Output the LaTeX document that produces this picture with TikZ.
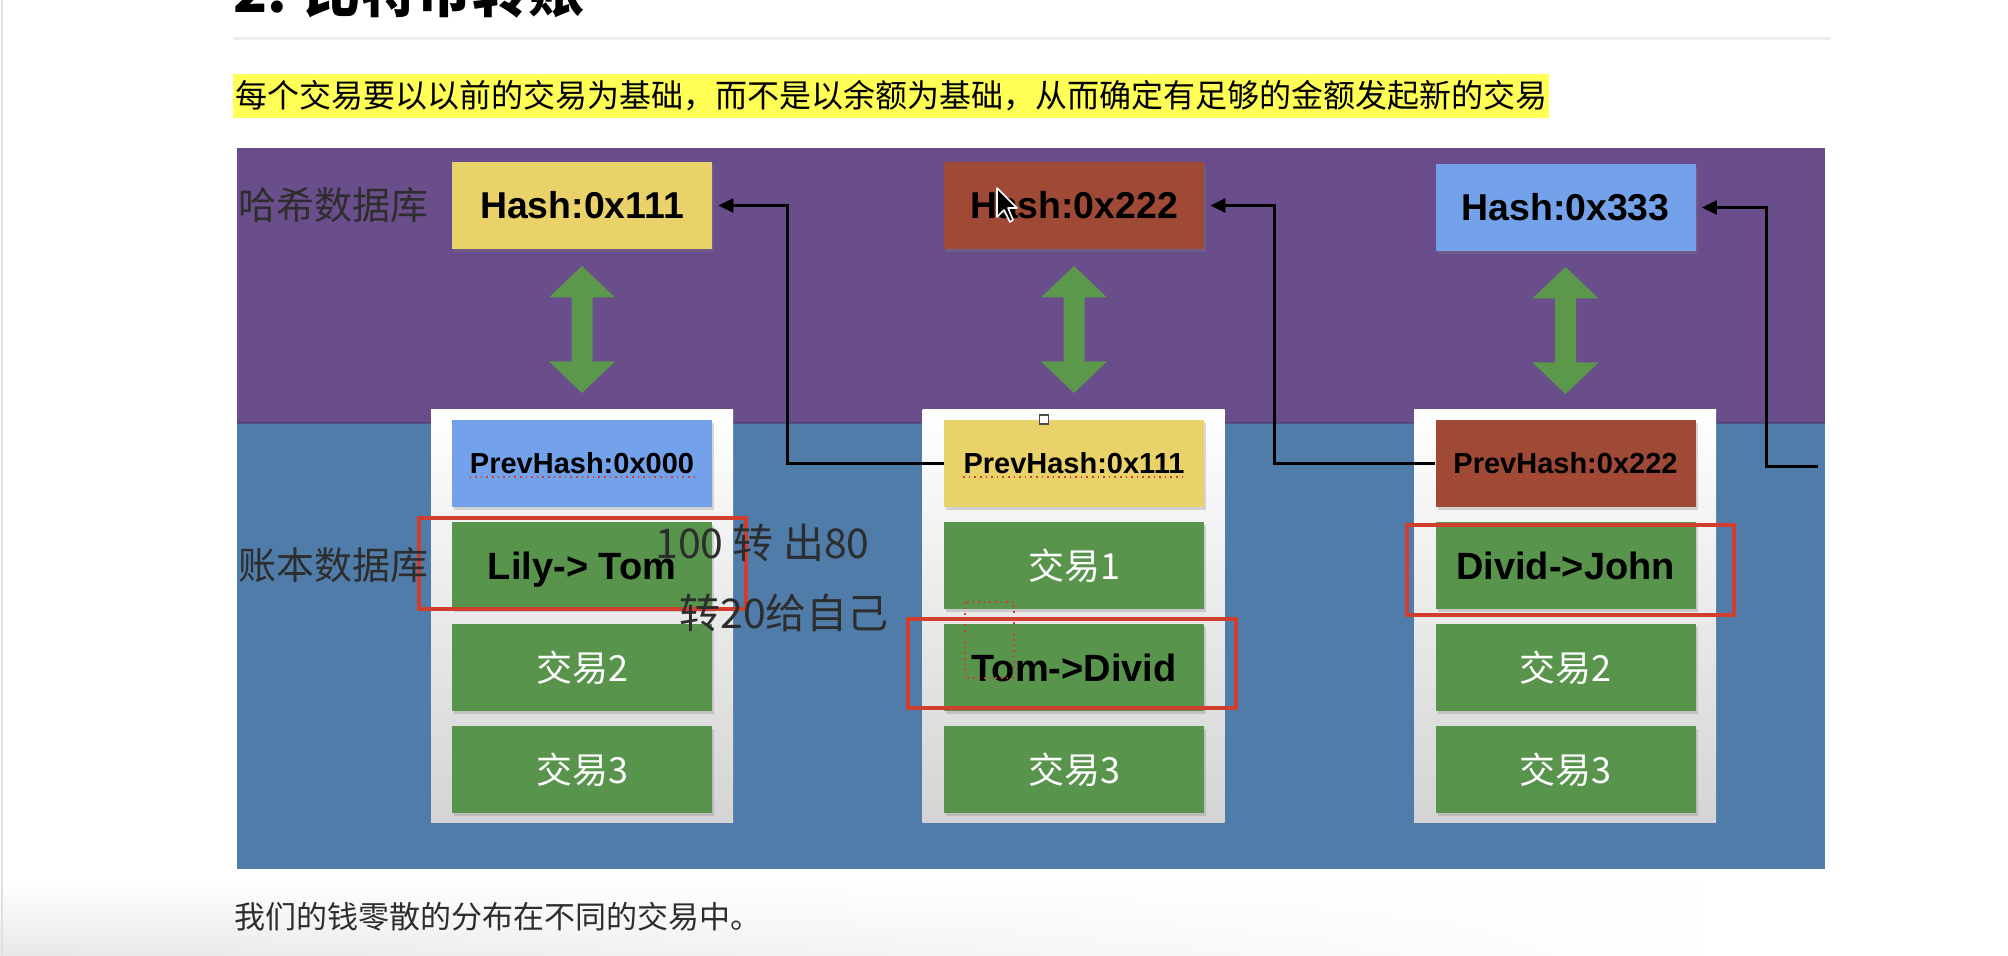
\documentclass[tikz,border=0pt]{standalone}
\usepackage{fontspec}
\setmainfont{Liberation Sans}
\newfontfamily\cjk{Noto Sans CJK SC}
\usetikzlibrary{arrows.meta,shadows,calc,fadings}
\definecolor{purp}{RGB}{106,77,139}
\definecolor{bluep}{RGB}{80,124,170}
\definecolor{hyel}{RGB}{234,210,106}
\definecolor{hbrown}{RGB}{158,74,54}
\definecolor{hlblue}{RGB}{115,161,234}
\definecolor{bgreen}{RGB}{88,148,76}
\definecolor{agreen}{RGB}{92,152,76}
\definecolor{hred}{RGB}{208,62,46}
\definecolor{labgray}{RGB}{45,45,45}
\definecolor{ctgray}{RGB}{212,212,212}
\definecolor{hlyellow}{RGB}{255,255,85}
\definecolor{sepgray}{RGB}{238,238,238}
\tikzfading[name=fadeR, left color=transparent!0, right color=transparent!100]
\begin{document}
\begin{tikzpicture}[x=0.5pt,y=-0.5pt,
  blk/.style={rectangle, minimum width=130pt, minimum height=43.5pt, inner sep=0pt,
    drop shadow={shadow xshift=1pt,shadow yshift=-1.5pt,opacity=0.3}},
  bt/.style={font=\bfseries\fontsize{19}{20}\selectfont, text height=13.6pt, text depth=0pt},
  ht/.style={font=\bfseries\fontsize{18.7}{20}\selectfont, text height=13.4pt, text depth=0pt},
  pt/.style={font=\bfseries\fontsize{14.5}{16}\selectfont, text height=10.4pt, text depth=0pt, inner sep=0pt},
  wt/.style={font=\cjk\fontsize{18}{18}\selectfont, text=white},
  container/.style={rectangle, minimum width=151pt, minimum height=206pt, inner sep=0pt,
    top color=white, bottom color=ctgray},
  lab/.style={font=\cjk\fontsize{19}{19}\selectfont, text=labgray, inner sep=0pt},
  lab2/.style={font=\cjk\fontsize{20.5}{21}\selectfont, text=labgray, inner sep=0pt},
  hl/.style={draw=hred, line width=2pt},
  conn/.style={line width=1.5pt, -{Triangle[length=7.5pt,width=7pt]}, shorten >=3pt},
  spell/.style={draw=hred, dotted, line width=0.8pt},
  dblarrow/.pic={\fill[agreen] (0,-63.5) -- (33,-32) -- (10.5,-32) -- (10.5,32) -- (33,32)
     -- (0,63.5) -- (-33,32) -- (-10.5,32) -- (-10.5,-32) -- (-33,-32) -- cycle;}
]
\useasboundingbox (0,0) rectangle (2008,956);
\clip (0,0) rectangle (2008,956);
\fill[white] (0,0) rectangle (2008,956);
% page artefacts
\shade[top color=white, bottom color=black!9, path fading=fadeR, fit fading=true] (0,880) rectangle (1700,956);
\draw[black!12, line width=1pt] (2,0) -- (2,956);

% heading and texts
\node[anchor=base west, inner sep=0pt, font=\cjk\bfseries\fontsize{28}{28}\selectfont] (title) at (233,13) {2. 比特币转账};
\draw[sepgray, line width=1.5pt] (233,39) -- (1831,39);
\node[anchor=west, fill=hlyellow, inner xsep=1pt, inner ysep=0pt, minimum height=22pt,
  font=\cjk\fontsize{16}{16}\selectfont] (intro) at (233,96)
  {每个交易要以以前的交易为基础，而不是以余额为基础，从而确定有足够的金额发起新的交易};
\node[anchor=west, inner sep=0pt, font=\cjk\fontsize{15.5}{16}\selectfont, text=labgray] (outro) at (234,917)
  {我们的钱零散的分布在不同的交易中。};

% panels
\fill[purp] (237,148) rectangle (1825,423);
\fill[bluep] (237,423) rectangle (1825,869);
\draw[purp!70!black, line width=1pt, opacity=0.5] (237,423) -- (1825,423);

% hash boxes
\node[blk, fill=hyel, ht] (h1) at (582,205.5) {Hash:0x111};
\node[blk, fill=hbrown, ht] (h2) at (1074,205.5) {Hash:0x222};
\node[blk, fill=hlblue, ht] (h3) at (1565.5,207.5) {Hash:0x333};

% double arrows
\pic at (582,329.5) {dblarrow};
\pic at (1074,329.5) {dblarrow};
\pic at (1565.5,330.5) {dblarrow};

% containers
\node[container] (c1) at (582,616) {};
\node[container] (c2) at (1073.5,616) {};
\node[container] (c3) at (1565,616) {};

% column 1
\node[blk, fill=hlblue] (p1) at (582,463.5) {};
\node[pt] (p1t) at (p1.center) {PrevHash:0x000};
\node[blk, fill=bgreen, bt] (t11) at (582,565.5) {Lily-> Tom};
\node[blk, fill=bgreen, wt] (t12) at (582,667.5) {交易2};
\node[blk, fill=bgreen, wt] (t13) at (582,769.5) {交易3};
% column 2
\node[blk, fill=hyel] (p2) at (1074,463.5) {};
\node[pt] (p2t) at (p2.center) {PrevHash:0x111};
\node[blk, fill=bgreen, wt] (t21) at (1074,565.5) {交易1};
\node[blk, fill=bgreen, bt] (t22) at (1074,667.5) {Tom->Divid};
\node[blk, fill=bgreen, wt] (t23) at (1074,769.5) {交易3};
% column 3
\node[blk, fill=hbrown] (p3) at (1565.5,463.5) {};
\node[pt] (p3t) at (p3.center) {PrevHash:0x222};
\node[blk, fill=bgreen, bt] (t31) at (1565.5,565.5) {Divid->John};
\node[blk, fill=bgreen, wt] (t32) at (1565.5,667.5) {交易2};
\node[blk, fill=bgreen, wt] (t33) at (1565.5,769.5) {交易3};

% spell-check underlines
\foreach \n in {p1t,p2t,p3t}{
  \draw[spell] ($(\n.base west)+(0,3)$) -- ($(\n.base east)+(0,3)$);
}

% red highlights
\draw[hl] (419,518) rectangle (746,609);
\draw[hl] (908,619) rectangle (1236,708);
\draw[hl] (1407,525) rectangle (1734,615);

% labels
\node[lab, anchor=west] (lhash) at (238,205) {哈希数据库};
\node[lab, anchor=west] (lledger) at (238,565) {账本数据库};
\node[lab2, anchor=west] (note1) at (655,543) {100 转 出80};
\node[lab2, anchor=west] (note2) at (679,613) {转20给自己};

% connectors
\draw[conn] (p2.west) -- ++(-156,0) |- (h1.east);
\draw[conn] (p3.west) -- ++(-161,0) |- (h2.east);
\coordinate (e3) at (1818,467);
\draw[conn] (e3) -- ++(-52,0) |- (h3.east);

% screenshot artefacts
\draw[hred, dotted, line width=0.8pt] (965,602) rectangle (1014,678);
\draw[fill=white, draw=black!70, line width=0.6pt] (1039.5,415) rectangle (1048.5,424);
\fill[black, draw=white, line width=0.8pt, line join=round] (997,188) -- ++(0,29) -- ++(7,-7) -- ++(6,12)
  -- ++(3,-2) -- ++(-5,-12) -- ++(9,0) -- cycle;
\end{tikzpicture}
\end{document}
